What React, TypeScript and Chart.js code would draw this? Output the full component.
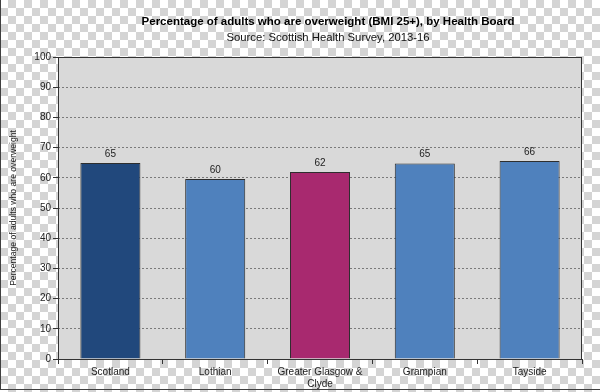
import React, { useEffect, useRef } from "react";
import { Chart, registerables } from "chart.js";

Chart.register(...registerables);

const categories: (string | string[])[] = [
  "Scotland",
  "Lothian",
  ["Greater Glasgow &", "Clyde"],
  "Grampian",
  "Tayside",
];
const overweightPct = [64.9, 59.6, 61.9, 64.7, 65.6];
const barColors = ["#21487c", "#4f81bd", "#a8296f", "#4f81bd", "#4f81bd"];
const titleText = "Percentage of adults who are overweight (BMI 25+), by Health Board";
const subtitleText = "Source: Scottish Health Survey, 2013-16";
const yAxisTitle = "Percentage of adults who are overweight";

const FONT = "'Liberation Sans', Arial, sans-serif";

export default function App() {
  const ref = useRef<HTMLCanvasElement>(null);
  useEffect(() => {
    document.body.style.margin = "0";
    const canvas = ref.current!;
    const decor = {
      id: "decor",
      beforeDraw(chart: any) {
        const { ctx, chartArea: a } = chart;
        ctx.save();
        ctx.fillStyle = "#d9d9d9";
        ctx.fillRect(a.left, a.top, a.right - a.left, a.bottom - a.top);
        ctx.restore();
      },
      afterDraw(chart: any) {
        const { ctx, chartArea: a } = chart;
        ctx.save();
        ctx.strokeStyle = "#333333";
        ctx.lineWidth = 1;
        ctx.strokeRect(a.left + 0.5, a.top + 0.5, a.right - a.left - 1, a.bottom - a.top);
        // outer frame (left and bottom)
        ctx.fillStyle = "#404040";
        ctx.fillRect(0, 0, 1, 390);
        ctx.fillRect(0, 389, 600, 1);
        // titles
        ctx.fillStyle = "#000";
        ctx.textAlign = "center";
        ctx.textBaseline = "middle";
        ctx.font = `bold 11.5px ${FONT}`;
        ctx.fillText(titleText, 328, 22);
        ctx.font = `11.3px ${FONT}`;
        ctx.fillStyle = "#111";
        ctx.fillText(subtitleText, 328, 38);
        // data labels
        const meta = chart.getDatasetMeta(0);
        ctx.font = `10px ${FONT}`;
        ctx.fillStyle = "#222";
        meta.data.forEach((bar: any, i: number) => {
          ctx.fillText(String(Math.round(overweightPct[i])), bar.x, bar.y - 9);
        });
        ctx.restore();
      },
    };
    const chart = new Chart(canvas, {
      type: "bar",
      data: {
        labels: categories,
        datasets: [
          {
            data: overweightPct,
            backgroundColor: barColors,
            borderColor: "#2e2e2e",
            borderWidth: 1,
            categoryPercentage: 0.573,
            barPercentage: 1,
          },
        ],
      },
      options: {
        animation: false,
        responsive: false,
        devicePixelRatio: 1,
        layout: { padding: { left: 0, top: 57, right: 18, bottom: 0 } },
        plugins: { legend: { display: false }, title: { display: false }, tooltip: { enabled: false } },
        scales: {
          x: {
            offset: true,
            grid: {
              offset: true,
              drawOnChartArea: false,
              drawTicks: true,
              tickLength: 5,
              color: "#333333",
            },
            border: { display: false },
            ticks: { color: "#222", font: { family: FONT, size: 10 }, padding: 2, maxRotation: 0, autoSkip: false },
            afterFit(scale: any) {
              scale.height = 33;
            },
          },
          y: {
            min: 0,
            max: 100,
            ticks: { stepSize: 10, color: "#222", font: { family: FONT, size: 10 }, padding: 2 },
            grid: {
              color: "#7a7a7a",
              tickColor: "#333333",
              tickLength: 5,
              tickBorderDash: [],
            },
            border: { display: false, dash: [2, 2] },
            title: {
              display: true,
              text: yAxisTitle,
              color: "#222",
              font: { family: FONT, size: 8.6 },
              padding: { top: 8, bottom: 0 },
            },
            afterFit(scale: any) {
              scale.width = 58;
            },
          },
        },
      },
      plugins: [decor],
    });
    return () => chart.destroy();
  }, []);
  return (
    <div
      style={{
        position: "relative",
        width: 600,
        height: 392,
        background: "repeating-conic-gradient(#d4d4d4 0 25%, #ffffff 0 50%) 0 0 / 16px 16px",
      }}
    >
      <canvas ref={ref} width={600} height={392} style={{ display: "block" }} />
    </div>
  );
}
